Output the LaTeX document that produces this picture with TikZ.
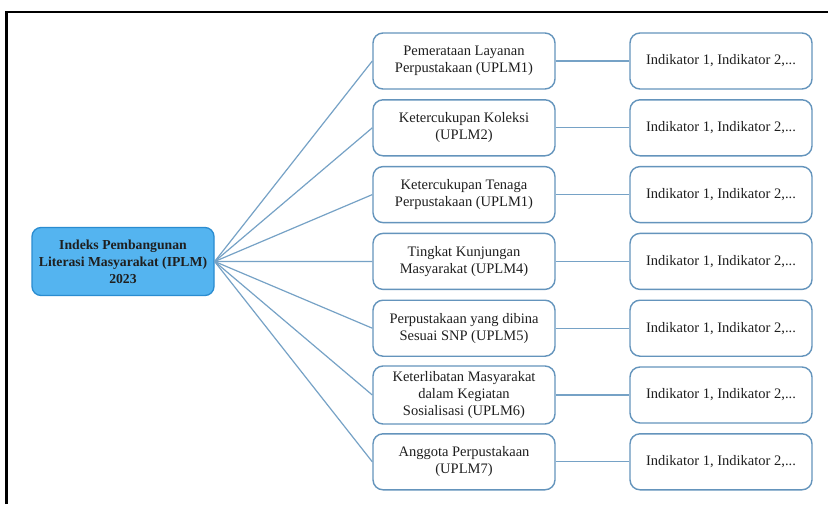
\documentclass[tikz,border=0pt]{standalone}
\usepackage{fontspec}
\setmainfont{Liberation Serif}
\usetikzlibrary{shapes,arrows,positioning,calc}

\definecolor{garisbiru}{RGB}{118,162,198}
\definecolor{tepibiru}{RGB}{100,148,188}
\definecolor{isibiru}{RGB}{84,180,240}
\definecolor{tepiutama}{RGB}{42,140,208}

\begin{document}
\begin{tikzpicture}[x=1pt, y=-1pt]
  \tikzstyle{indeks}=[rectangle, draw=tepiutama, fill=isibiru, line width=1.3pt, minimum width=182pt, minimum height=68pt, rounded corners=9pt, inner xsep=2pt, align=center, font=\fontsize{13.7}{17}\selectfont\bfseries, text=black!88]
  \tikzstyle{aspek}=[rectangle, draw=tepibiru, fill=white, line width=1.4pt, minimum width=182pt, minimum height=56pt, rounded corners=10pt, align=center, font=\fontsize{14.5}{17}\selectfont, text=black!88]
  \tikzstyle{indikator}=[aspek]
  \tikzstyle{link}=[draw=garisbiru, line width=1.2pt]

  \useasboundingbox (0,0) rectangle (828,504);
  \fill[white] (0,0) rectangle (828,504);
  % bingkai
  \draw[line width=2.6pt, black] (6.5,504) -- (6.5,12) -- (828,12);

  % Indeks utama
  \node[indeks] (iplm) at (123,261.5) {Indeks Pembangunan\\Literasi Masyarakat (IPLM)\\2023};

  % Aspek UPLM
  \node[aspek] (u1) at (464,61) {Pemerataan Layanan\\Perpustakaan (UPLM1)};
  \node[aspek] (u2) at (464,127.8) {Ketercukupan Koleksi\\(UPLM2)};
  \node[aspek] (u3) at (464,194.6) {Ketercukupan Tenaga\\Perpustakaan (UPLM1)};
  \node[aspek] (u4) at (464,261.4) {Tingkat Kunjungan\\Masyarakat (UPLM4)};
  \node[aspek] (u5) at (464,328.2) {Perpustakaan yang dibina\\Sesuai SNP (UPLM5)};
  \node[aspek, minimum height=58pt, inner ysep=1pt] (u6) at (464,395) {Keterlibatan Masyarakat\\dalam Kegiatan\\Sosialisasi (UPLM6)};
  \node[aspek] (u7) at (464,461.8) {Anggota Perpustakaan\\(UPLM7)};

  % Indikator
  \node[indikator] (i1) at (721,61) {Indikator 1, Indikator 2,...};
  \node[indikator] (i2) at (721,127.8) {Indikator 1, Indikator 2,...};
  \node[indikator] (i3) at (721,194.6) {Indikator 1, Indikator 2,...};
  \node[indikator] (i4) at (721,261.4) {Indikator 1, Indikator 2,...};
  \node[indikator] (i5) at (721,328.2) {Indikator 1, Indikator 2,...};
  \node[indikator] (i6) at (721,395) {Indikator 1, Indikator 2,...};
  \node[indikator] (i7) at (721,461.8) {Indikator 1, Indikator 2,...};

  % Garis indeks - aspek
  \draw[link] (iplm.east) -- (u1.west);
  \draw[link] (iplm.east) -- (u2.west);
  \draw[link] (iplm.east) -- (u3.west);
  \draw[link] (iplm.east) -- (u4.west);
  \draw[link] (iplm.east) -- (u5.west);
  \draw[link] (iplm.east) -- (u6.west);
  \draw[link] (iplm.east) -- (u7.west);

  % Garis aspek - indikator
  \draw[link] (u1) -- (i1);
  \draw[link] (u2) -- (i2);
  \draw[link] (u3) -- (i3);
  \draw[link] (u4) -- (i4);
  \draw[link] (u5) -- (i5);
  \draw[link] (u6) -- (i6);
  \draw[link] (u7) -- (i7);
\end{tikzpicture}
\end{document}
